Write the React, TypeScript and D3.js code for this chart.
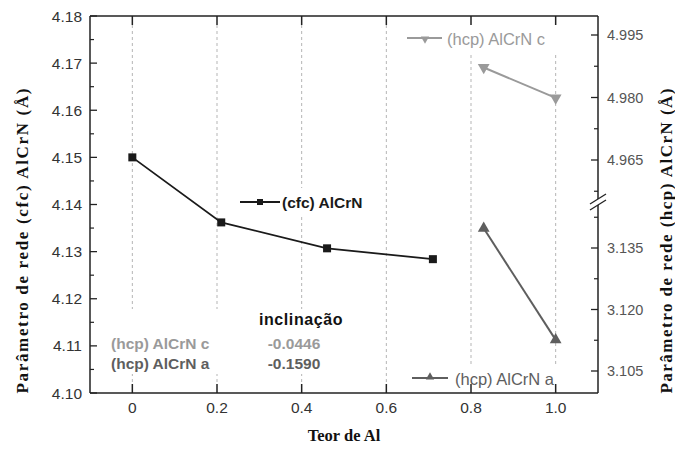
import React from "react";
import * as d3 from "d3";

// data
const cfcX = [0, 0.21, 0.46, 0.71];
const cfcY = [4.15, 4.1362, 4.1307, 4.1284];
const hcpCX = [0.83, 1.0];
const hcpCY = [4.9872, 4.9799];
const hcpAX = [0.83, 1.0];
const hcpAY = [3.1398, 3.1126];

const xTicks = [0, 0.2, 0.4, 0.6, 0.8, 1.0];
const leftTicks = [4.1, 4.11, 4.12, 4.13, 4.14, 4.15, 4.16, 4.17, 4.18];
const leftMinor = [4.105, 4.115, 4.125, 4.135, 4.145, 4.155, 4.165, 4.175];
const upperTicks = [4.965, 4.98, 4.995];
const upperMinor = [4.9575, 4.9725, 4.9875];
const lowerTicks = [3.105, 3.12, 3.135];
const lowerMinor = [3.1125, 3.1275, 3.1425];

const slopeNames = ["(hcp) AlCrN c", "(hcp) AlCrN a"];
const slopeValues = ["-0.0446", "-0.1590"];

const W = 675;
const H = 450;
const left = 90, right = 598, top = 16, bottom = 393;
const breakTop = 195, breakBot = 209;

const AX = "#222";
const CFC = "#1a1a1a";
const LIGHT = "#9a9a9a";
const DARK = "#5e5e5e";
const sans = "Liberation Sans, Arial, sans-serif";
const serif = "Liberation Serif, Times New Roman, serif";

export default function App() {
  const x = d3.scaleLinear().domain([-0.1, 1.1]).range([left, right]);
  const yL = d3.scaleLinear().domain([4.1, 4.18]).range([bottom, top]);
  const yU = d3.scaleLinear().domain([4.965, 4.995]).range([160, 35]);
  const yD = d3.scaleLinear().domain([3.105, 3.135]).range([371, 248]);

  const line = d3.line<[number, number]>().x(d => d[0]).y(d => d[1]);
  const cfcPts = cfcX.map((v, i) => [x(v), yL(cfcY[i])] as [number, number]);
  const cPts = hcpCX.map((v, i) => [x(v), yU(hcpCY[i])] as [number, number]);
  const aPts = hcpAX.map((v, i) => [x(v), yD(hcpAY[i])] as [number, number]);

  const triDown = d3.symbol().type(d3.symbolTriangle).size(60)();
  const triSmall = d3.symbol().type(d3.symbolTriangle).size(30)();

  return (
    <svg width={W} height={H} style={{ position: "absolute", left: 0, top: 0, background: "#fff" }}>
      <rect width={W} height={H} fill="#fff" />
      {/* grid */}
      {xTicks.map(t => (
        <line key={"g" + t} x1={x(t)} x2={x(t)} y1={top + 9} y2={bottom - 9}
          stroke="#b5b5b5" strokeWidth={1} strokeDasharray="3,3" />
      ))}
      {/* white boxes behind labels */}
      <rect x={236} y={188} width={132} height={26} fill="#fff" />
      <rect x={400} y={24} width={162} height={30} fill="#fff" />
      <rect x={405} y={366} width={158} height={24} fill="#fff" />
      <rect x={105} y={309} width={242} height={65} fill="#fff" />

      {/* frame */}
      <line x1={left} x2={right} y1={top} y2={top} stroke={AX} strokeWidth={1.5} />
      <line x1={left} x2={right} y1={bottom} y2={bottom} stroke={AX} strokeWidth={1.5} />
      <line x1={left} x2={left} y1={top} y2={bottom} stroke={AX} strokeWidth={1.5} />
      <line x1={right} x2={right} y1={top} y2={breakTop + 4} stroke={AX} strokeWidth={1.5} />
      <line x1={right} x2={right} y1={breakBot - 4} y2={bottom} stroke={AX} strokeWidth={1.5} />
      <line x1={590} x2={606} y1={breakTop + 9} y2={breakTop - 1} stroke={AX} strokeWidth={1.3} />
      <line x1={590} x2={606} y1={breakBot + 1} y2={breakBot - 9} stroke={AX} strokeWidth={1.3} />

      {/* x ticks */}
      {xTicks.map(t => (
        <g key={"xt" + t}>
          <line x1={x(t)} x2={x(t)} y1={top} y2={top + 9} stroke={AX} strokeWidth={1.5} />
          <line x1={x(t)} x2={x(t)} y1={bottom} y2={bottom - 9} stroke={AX} strokeWidth={1.5} />
          <text x={x(t)} y={413} textAnchor="middle" fontFamily={sans} fontSize={15.5} fill="#333">
            {t === 0 ? "0" : t.toFixed(1)}
          </text>
        </g>
      ))}

      {/* left ticks */}
      {leftTicks.map(t => (
        <g key={"lt" + t}>
          <line x1={left} x2={left + 7} y1={yL(t)} y2={yL(t)} stroke={AX} strokeWidth={1.3} />
          <text x={82} y={yL(t)} dy="0.36em" textAnchor="end" fontFamily={sans} fontSize={15.5} fill="#333">
            {t.toFixed(2)}
          </text>
        </g>
      ))}
      {leftMinor.map(t => (
        <line key={"lm" + t} x1={left} x2={left + 4} y1={yL(t)} y2={yL(t)} stroke={AX} strokeWidth={1.2} />
      ))}

      {/* right ticks */}
      {upperTicks.map(t => (
        <g key={"ut" + t}>
          <line x1={right} x2={right - 7} y1={yU(t)} y2={yU(t)} stroke={AX} strokeWidth={1.3} />
          <text x={607} y={yU(t)} dy="0.36em" fontFamily={sans} fontSize={14.5} fill="#555">
            {t.toFixed(3)}
          </text>
        </g>
      ))}
      {upperMinor.map(t => (
        <line key={"um" + t} x1={right} x2={right - 4} y1={yU(t)} y2={yU(t)} stroke={AX} strokeWidth={1.2} />
      ))}
      {lowerTicks.map(t => (
        <g key={"dt" + t}>
          <line x1={right} x2={right - 7} y1={yD(t)} y2={yD(t)} stroke={AX} strokeWidth={1.3} />
          <text x={607} y={yD(t)} dy="0.36em" fontFamily={sans} fontSize={14.5} fill="#555">
            {t.toFixed(3)}
          </text>
        </g>
      ))}
      {lowerMinor.map(t => (
        <line key={"dm" + t} x1={right} x2={right - 4} y1={yD(t)} y2={yD(t)} stroke={AX} strokeWidth={1.2} />
      ))}

      {/* series */}
      <path d={line(cfcPts) || ""} fill="none" stroke={CFC} strokeWidth={1.8} />
      {cfcPts.map((p, i) => (
        <rect key={"s" + i} x={p[0] - 4} y={p[1] - 4} width={8} height={8} fill={CFC} />
      ))}
      <path d={line(cPts) || ""} fill="none" stroke={LIGHT} strokeWidth={2} />
      {cPts.map((p, i) => (
        <path key={"c" + i} d={triDown || ""} transform={`translate(${p[0]},${p[1]}) rotate(180)`} fill={LIGHT} />
      ))}
      <path d={line(aPts) || ""} fill="none" stroke={DARK} strokeWidth={2} />
      {aPts.map((p, i) => (
        <path key={"a" + i} d={triDown || ""} transform={`translate(${p[0]},${p[1]})`} fill={DARK} />
      ))}

      {/* legends */}
      <line x1={240} x2={280} y1={202} y2={202} stroke={CFC} strokeWidth={2} />
      <rect x={257} y={199} width={6} height={6} fill={CFC} />
      <text x={282} y={208} fontFamily={sans} fontSize={15.5} fontWeight="bold" fill={CFC}>(cfc) AlCrN</text>

      <line x1={407} x2={442} y1={38} y2={38} stroke={LIGHT} strokeWidth={2} />
      <path d={triSmall || ""} transform="translate(425,39) rotate(180)" fill={LIGHT} />
      <text x={447} y={45} fontFamily={sans} fontSize={16.5} fill={LIGHT}>(hcp) AlCrN c</text>

      <line x1={412} x2={448} y1={378} y2={378} stroke={DARK} strokeWidth={2} />
      <path d={triSmall || ""} transform="translate(430,377)" fill={DARK} />
      <text x={455} y={385} fontFamily={sans} fontSize={16.5} fill={DARK}>(hcp) AlCrN a</text>

      {/* slope table */}
      <text x={301} y={325} textAnchor="middle" fontFamily={sans} fontSize={16} fontWeight="bold"
        letterSpacing={0.6} fill="#111">inclinação</text>
      {slopeNames.map((n, i) => (
        <g key={n}>
          <text x={111} y={349 + i * 20} fontFamily={sans} fontSize={15.5} fontWeight="bold"
            fill={i === 0 ? LIGHT : DARK}>{n}</text>
          <text x={294} y={349 + i * 20} textAnchor="middle" fontFamily={sans} fontSize={15.5} fontWeight="bold"
            fill={i === 0 ? LIGHT : DARK}>{slopeValues[i]}</text>
        </g>
      ))}

      {/* axis titles */}
      <text x={(left + right) / 2} y={441} textAnchor="middle" fontFamily={serif} fontSize={16.5} fontWeight="bold" fill="#111">
        Teor de Al
      </text>
      <text transform="translate(28,241) rotate(-90)" textAnchor="middle" fontFamily={serif} fontSize={17}
        fontWeight="bold" fill="#111" textLength={305} lengthAdjust="spacing">
        Parâmetro de rede  (cfc) AlCrN (Å)
      </text>
      <text transform="translate(672,241) rotate(-90)" textAnchor="middle" fontFamily={serif} fontSize={17}
        fontWeight="bold" fill="#111" textLength={305} lengthAdjust="spacing">
        Parâmetro de rede  (hcp) AlCrN (Å)
      </text>
    </svg>
  );
}
